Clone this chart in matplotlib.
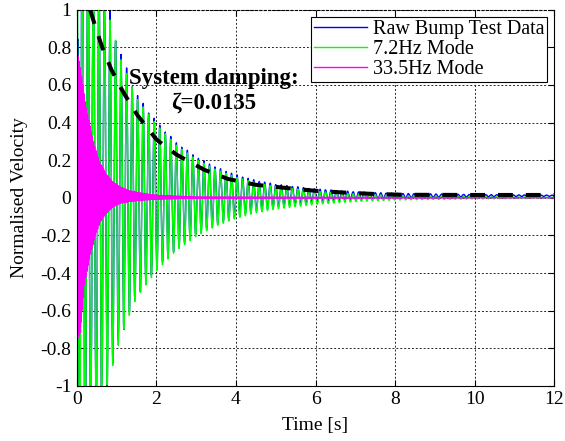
import numpy as np
import matplotlib
matplotlib.use('Agg')
import matplotlib.pyplot as plt
from matplotlib.ticker import FormatStrFormatter

plt.rcParams['font.family'] = ['Liberation Serif', 'DejaVu Serif']
plt.rcParams['axes.unicode_minus'] = False

# mode frequencies (from legend) [Hz]
green_freq = 7.2
magenta_freq = 33.5

# 7.2Hz mode envelope
green_env_t = [0.0, 0.4, 0.8, 1.1, 1.5, 2.0, 2.5, 3.0, 3.5, 4.0, 4.5, 5.0, 6.0, 7.0, 8.0, 10.0, 12.0]
green_env = [1.5, 1.25, 0.97, 0.74, 0.53, 0.39, 0.28, 0.205, 0.15, 0.11, 0.08, 0.06, 0.035, 0.02, 0.012, 0.006, 0.003]

# 33.5Hz mode envelope (upper / lower)
magenta_env_t = [0.0, 0.08, 0.2, 0.33, 0.45, 0.58, 0.75, 0.9, 1.08, 1.33, 1.7, 2.0, 3.0, 12.0]
magenta_upper = [0.78, 0.71, 0.52, 0.38, 0.27, 0.186, 0.122, 0.085, 0.059, 0.037, 0.022, 0.014, 0.005, 0.0]
magenta_lower = [-0.76, -0.72, -0.45, -0.31, -0.21, -0.13, -0.08, -0.05, -0.03, -0.02, -0.012, -0.008, -0.003, 0.0]

# dc offset of the raw signal at late times
raw_offset = 0.011

# damping envelope (black dashed)
decay_t = [0.33, 0.62, 0.87, 1.17, 1.52, 2.0, 2.5, 3.2, 3.8, 4.5, 5.45, 6.0, 6.7, 7.4, 8.2, 10.0, 12.0]
decay_v = [1.0, 0.81, 0.68, 0.56, 0.44, 0.31, 0.23, 0.149, 0.10, 0.069, 0.048, 0.037, 0.028, 0.021, 0.016, 0.015, 0.015]

legend_labels = ['Raw Bump Test Data', '7.2Hz Mode', '33.5Hz Mode']
annotation = 'System damping:\n\u03b6=0.0135'
xticks = [0, 2, 4, 6, 8, 10, 12]
yticks = [-1, -0.8, -0.6, -0.4, -0.2, 0, 0.2, 0.4, 0.6, 0.8, 1]

# build the signals
t = np.arange(0, 12.0, 0.001)
g_amp = np.interp(t, green_env_t, green_env)
green = g_amp*np.cos(2*np.pi*green_freq*t)
m_hi = np.interp(t, magenta_env_t, magenta_upper)
m_lo = np.interp(t, magenta_env_t, magenta_lower)
magenta = 0.5*(m_hi+m_lo) + 0.5*(m_hi-m_lo)*np.cos(2*np.pi*magenta_freq*t)
raw = green + 0.5*magenta + raw_offset

fig = plt.figure(figsize=(5.65, 4.41), dpi=100)
ax = fig.add_axes([0.136, 0.125, 0.845, 0.853])

ax.plot(t, raw, color='#0000FF', lw=1.0, label=legend_labels[0])
ax.plot(t, green, color='#00FF00', lw=1.0, label=legend_labels[1])
ax.plot(t, magenta, color='#FF00FF', lw=1.0, label=legend_labels[2])
ax.plot(decay_t, decay_v, color='k', lw=2.9, dashes=(3.7, 3.2))

ax.set_xlim(0, 12)
ax.set_ylim(-1, 1)
ax.set_xticks(xticks)
ax.set_yticks(yticks)
ax.yaxis.set_major_formatter(FormatStrFormatter('%g'))
ax.tick_params(direction='in', top=True, right=True, labelsize=14, length=4, width=0.8, pad=4)
ax.grid(True, color='0.15', linestyle=(0, (2, 2)), linewidth=0.7)
ax.spines['top'].set_linestyle((0, (2, 2)))
for s in ax.spines.values():
    s.set_linewidth(0.8)

ax.set_xlabel('Time [s]', fontsize=14, labelpad=6)
ax.set_ylabel('Normalised Velocity', fontsize=14, labelpad=9)

ax.text(3.45, 0.57, annotation, ha='center', va='center', fontsize=16.5,
        fontweight='bold', linespacing=1.25)

leg = ax.legend(loc='upper right', fontsize=14.5, fancybox=False, framealpha=1,
                edgecolor='k', handlelength=2.6, handletextpad=0.3,
                labelspacing=0.05, borderpad=0.15, borderaxespad=0.35)
leg.get_frame().set_linewidth(0.8)

fig.savefig('out.png', dpi=100)
